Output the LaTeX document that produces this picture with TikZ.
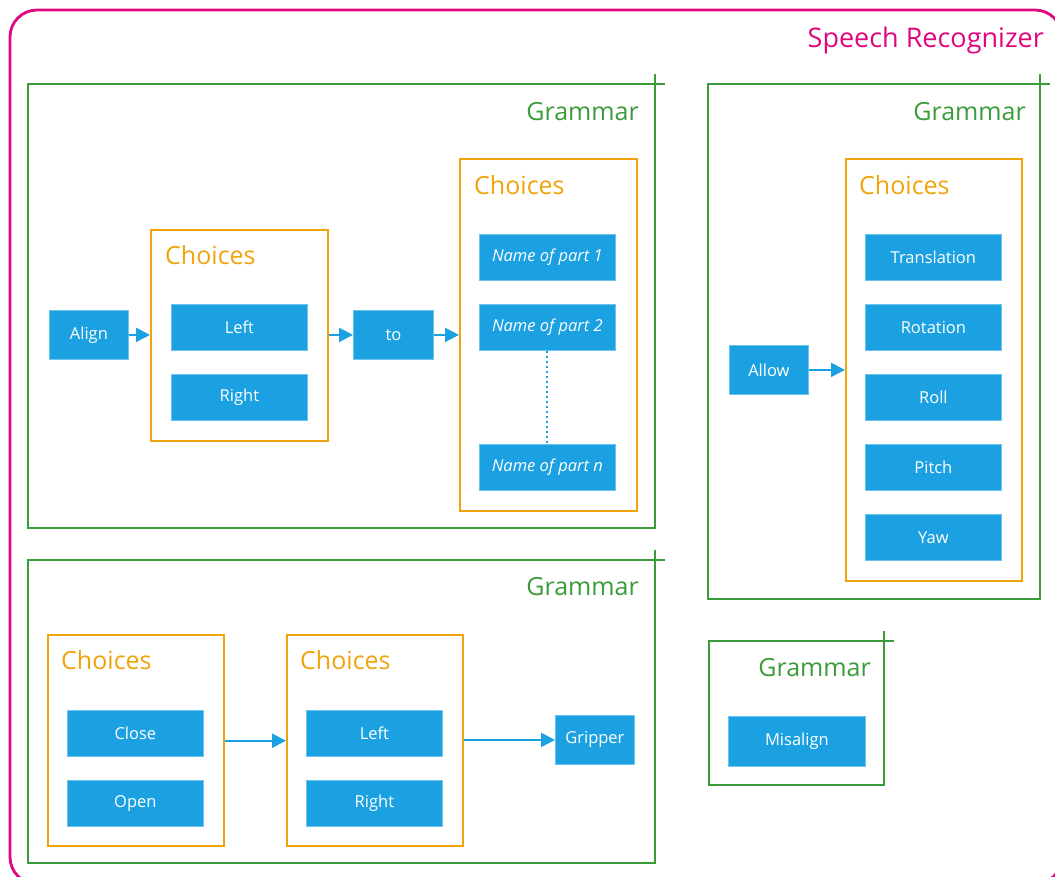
\documentclass[tikz,border=0pt]{standalone}
\usepackage{fontspec}
\setmainfont{Open Sans}
\usetikzlibrary{arrows.meta, positioning}
\definecolor{partblue}{HTML}{1BA1E2}
\definecolor{partedge}{HTML}{6CC3EE}
\definecolor{choiceorange}{HTML}{F0A30A}
\definecolor{grammargreen}{HTML}{3A9B3A}
\definecolor{recogpink}{HTML}{E0067E}

\begin{document}
\begin{tikzpicture}[x=1pt, y=-1pt, line join=miter,
  part/.style={draw=partedge, line width=0.8pt, fill=partblue, text=white, inner sep=0pt,
    minimum width=136pt, minimum height=46pt, anchor=north west, font=\fontsize{16.5}{19}\selectfont},
  word/.style={part, minimum width=79pt, minimum height=49pt},
  partname/.style={part, font=\fontsize{16.5}{19}\selectfont\itshape},
  choicebox/.style={draw=choiceorange, line width=2.4pt, inner sep=0pt, anchor=north west},
  choicetitle/.style={text=choiceorange, anchor=base west, inner sep=0pt, font=\fontsize{25}{30}\selectfont},
  grammarframe/.style={draw=grammargreen, line width=2.4pt},
  grammartitle/.style={text=grammargreen, anchor=base east, inner sep=0pt, font=\fontsize{25}{30}\selectfont},
  flow/.style={draw=partblue, line width=2.2pt, -{Triangle[length=14pt,width=14pt]}}]

\useasboundingbox (0,0) rectangle (1055,876);

% Speech Recognizer frame
\draw[recogpink, line width=2.8pt, rounded corners=27pt] (10,10) rectangle (1062,884);
\node[text=recogpink, anchor=base east, inner sep=0pt, font=\fontsize{27}{32}\selectfont]
  (recog) at (1044,47) {Speech Recognizer};

% --- Grammar: Align ... to ... ---
\draw[grammarframe] (665,84) -- (28,84) -- (28,528) -- (655,528) -- (655,74);
\node[grammartitle] (gAlignT) at (639,120) {Grammar};

\node[word] (align) at (49,310) {Align};

\node[choicebox, minimum width=177pt, minimum height=211pt] (chSide) at (150,229) {};
\node[choicetitle] (chSideT) at (165,264) {Choices};
\node[part] (sideL) at (171,304) {Left};
\node[part] (sideR) at (171,374) {Right};

\node[word, minimum width=80pt] (to) at (353,310) {to};

\node[choicebox, minimum width=177pt, minimum height=352pt] (chPart) at (459,158) {};
\node[choicetitle] (chPartT) at (474,194) {Choices};
\node[partname] (part1) at (479,234) {Name of part 1};
\node[partname] (part2) at (479,304) {Name of part 2};
\node[partname] (partN) at (479,444) {Name of part n};
\draw[partblue, line width=2pt, line cap=butt, dash pattern=on 2pt off 3pt] (part2.south) -- (partN.north);

\draw[flow] (align.east) -- (align.east -| chSide.west);
\draw[flow] (to.west -| chSide.east) -- (to.west);
\draw[flow] (to.east) -- (to.east -| chPart.west);

% --- Grammar: Allow ... ---
\draw[grammarframe] (1050,84) -- (708,84) -- (708,599) -- (1040,599) -- (1040,74);
\node[grammartitle] (gAllowT) at (1026,120) {Grammar};

\node[word] (allow) at (729,345) {Allow};

\node[choicebox, minimum width=176pt, minimum height=422pt] (chMove) at (845,158) {};
\node[choicetitle] (chMoveT) at (859,194) {Choices};
\node[part] (moveT) at (865,234) {Translation};
\node[part] (moveR) at (865,304) {Rotation};
\node[part] (moveRo) at (865,374) {Roll};
\node[part] (moveP) at (865,444) {Pitch};
\node[part] (moveY) at (865,514) {Yaw};

\draw[flow] (allow.east) -- (allow.east -| chMove.west);

% --- Grammar: Close/Open ... Gripper ---
\draw[grammarframe] (665,560) -- (28,560) -- (28,863) -- (655,863) -- (655,550);
\node[grammartitle] (gGripT) at (639,595) {Grammar};

\node[choicebox, minimum width=176pt, minimum height=211pt] (chGrip) at (47,634) {};
\node[choicetitle] (chGripT) at (61,669) {Choices};
\node[part] (gripC) at (67,710) {Close};
\node[part] (gripO) at (67,780) {Open};

\node[choicebox, minimum width=176pt, minimum height=211pt] (chHand) at (286,634) {};
\node[choicetitle] (chHandT) at (300,669) {Choices};
\node[part] (handL) at (306,710) {Left};
\node[part] (handR) at (306,780) {Right};

\node[word] (gripper) at (555,715) {Gripper};

\draw[flow] (chGrip.east) -- (chHand.west);
\draw[flow] (gripper.west -| chHand.east) -- (gripper.west);

% --- Grammar: Misalign ---
\draw[grammarframe] (894,641) -- (709,641) -- (709,785) -- (884,785) -- (884,631);
\node[grammartitle] (gMisT) at (871,676) {Grammar};
\node[part, minimum width=137pt, minimum height=50pt] (misalign) at (728,716) {Misalign};

\end{tikzpicture}
\end{document}
